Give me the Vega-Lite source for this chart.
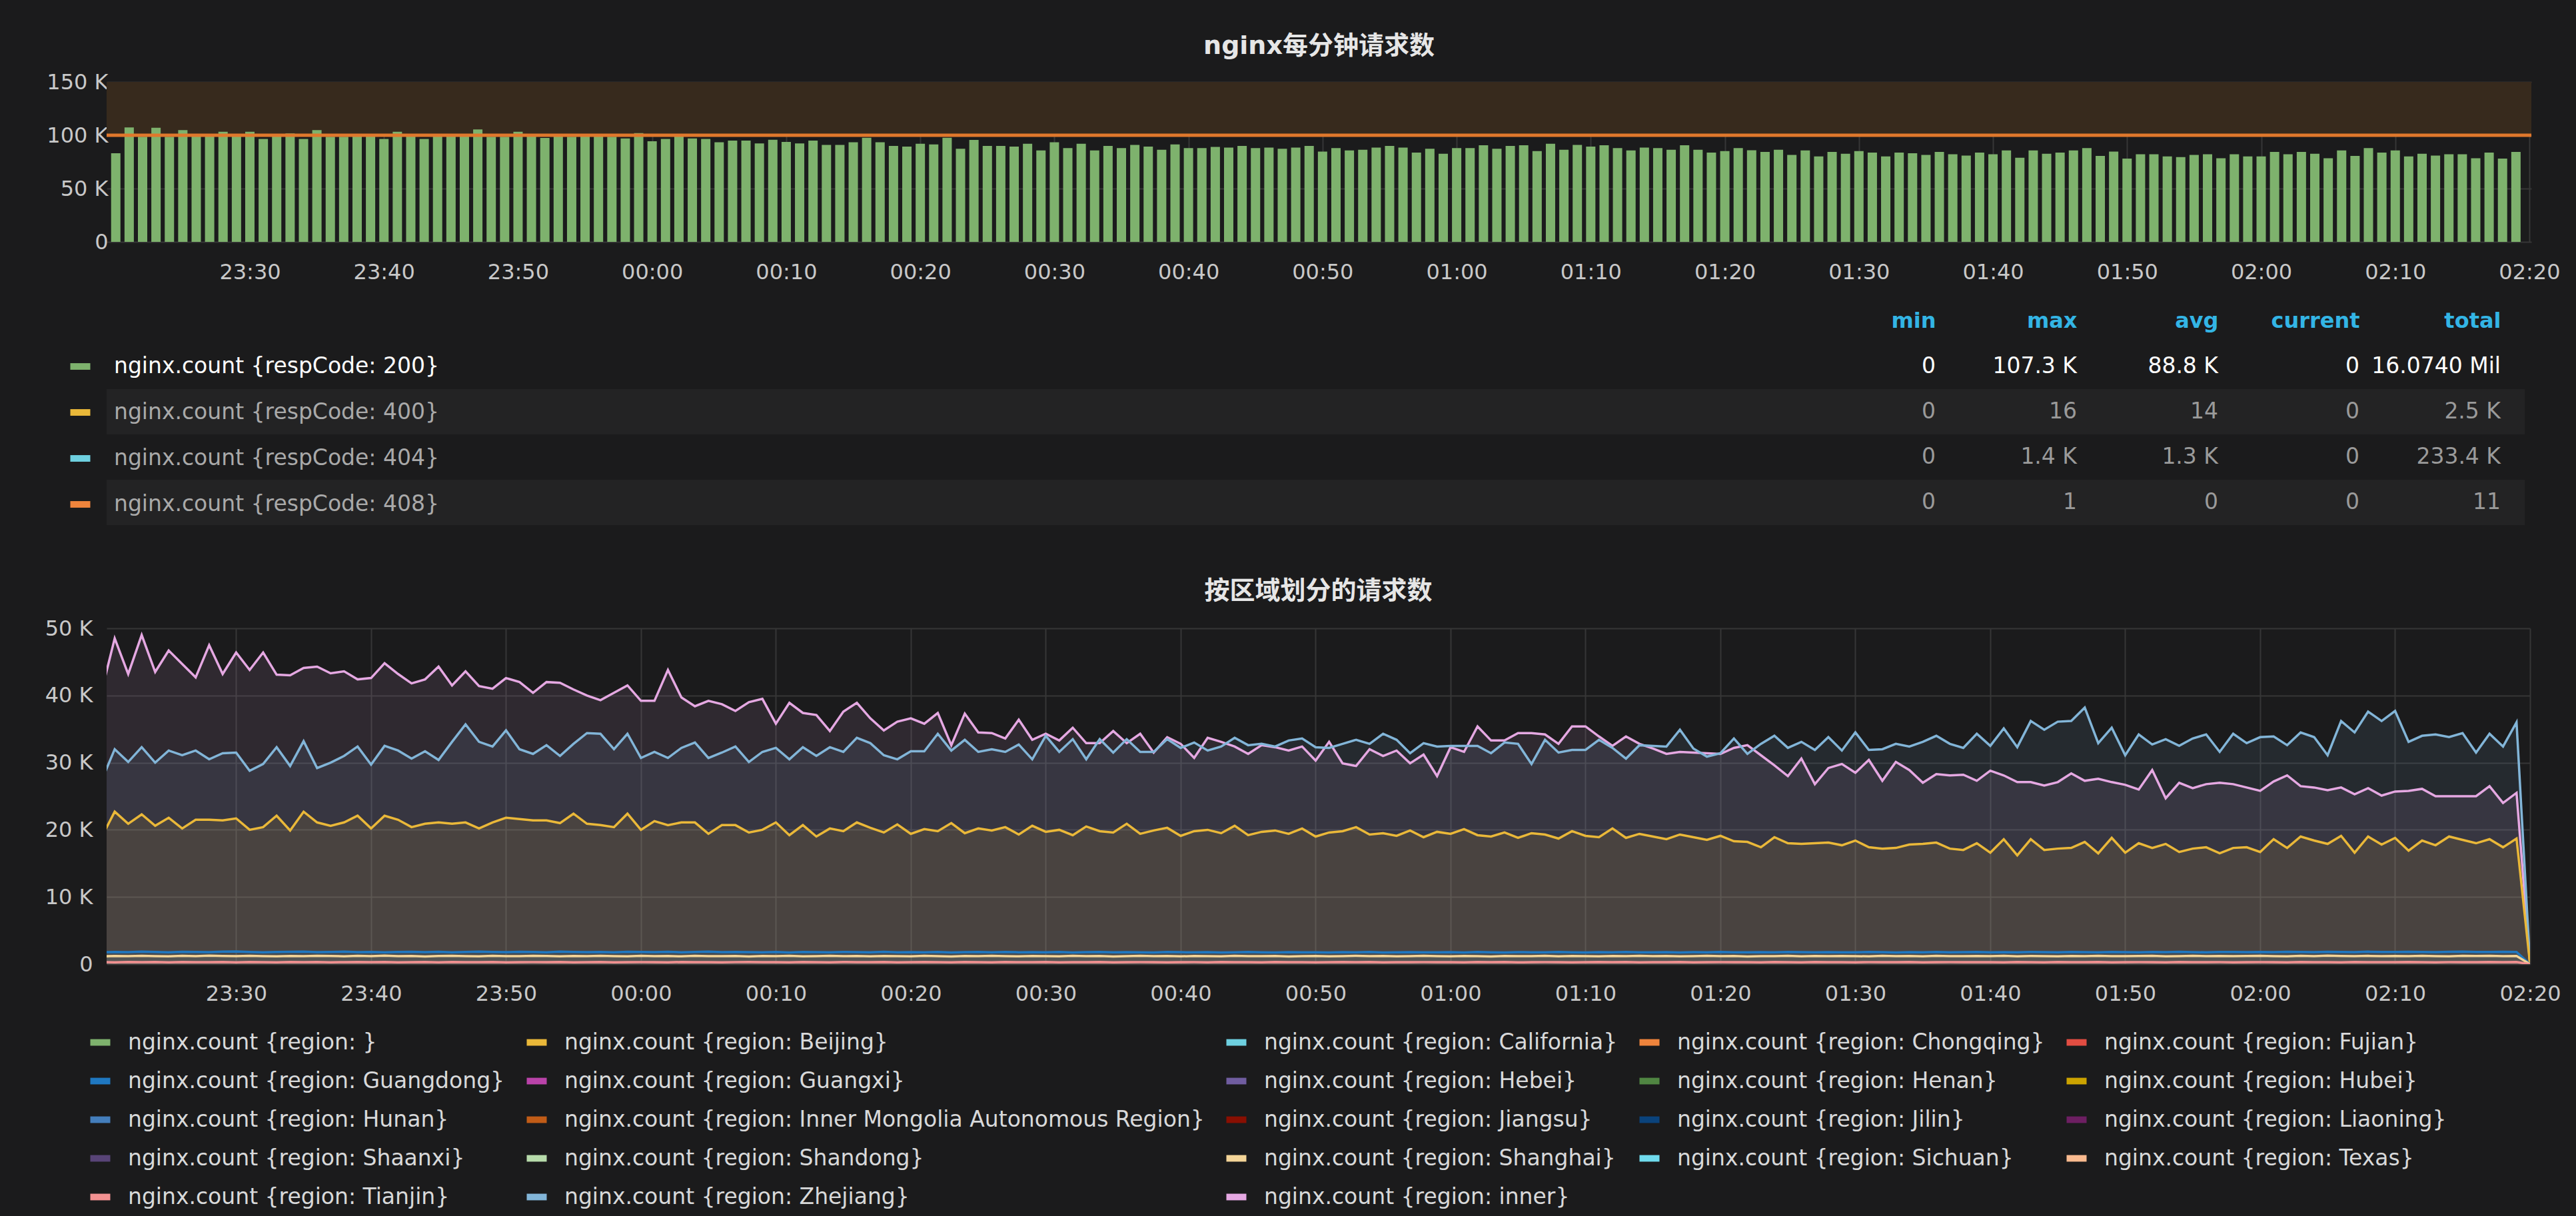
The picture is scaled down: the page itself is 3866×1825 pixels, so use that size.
{
"$schema": "https://vega.github.io/schema/vega-lite/v6.json",
"background": "#1b1b1c",
"padding": {"left": 67, "top": 51, "right": 23, "bottom": 17},
"spacing": 41,
"resolve": {"scale": {"color": "independent"}, "legend": {"color": "independent"}},
"config": {
  "view": {"stroke": null},
  "font": "DejaVu Sans",
  "axis": {"labelFont": "DejaVu Sans", "labelFontSize": 32, "labelColor": "#c8c8c8", "domain": false, "ticks": false, "gridColor": "#363636", "gridWidth": 2},
  "legend": {"labelFont": "DejaVu Sans", "labelFontSize": 33, "labelColor": "#d8d9da", "labelLimit": 3000},
  "title": {"font": "DejaVu Sans, Noto Sans CJK SC", "fontSize": 38, "fontWeight": "bold", "color": "#e6e6e6", "baseline": "bottom"}
},
"datasets": {
"stats": [
{"code":"200","min":"0","max":"107.3 K","avg":"88.8 K","current":"0","total":"16.0740 Mil"},
{"code":"400","min":"0","max":"16","avg":"14","current":"0","total":"2.5 K"},
{"code":"404","min":"0","max":"1.4 K","avg":"1.3 K","current":"0","total":"233.4 K"},
{"code":"408","min":"0","max":"1","avg":"0","current":"0","total":"11"}
],
"minutes": [
{"t":"2017-06-01T23:20","c200":83100,"inner":40400,"Zhejiang":27200,"Beijing":18800,"Guangdong":1750,"Shanghai":1150,"Tianjin":300},
{"t":"2017-06-01T23:21","c200":107300,"inner":48500,"Zhejiang":32000,"Beijing":22700,"Guangdong":1820,"Shanghai":1220,"Tianjin":280},
{"t":"2017-06-01T23:22","c200":98600,"inner":43200,"Zhejiang":30100,"Beijing":20900,"Guangdong":1780,"Shanghai":1180,"Tianjin":320},
{"t":"2017-06-01T23:23","c200":107000,"inner":49000,"Zhejiang":32300,"Beijing":22300,"Guangdong":1860,"Shanghai":1250,"Tianjin":290},
{"t":"2017-06-01T23:24","c200":98600,"inner":43500,"Zhejiang":30000,"Beijing":20600,"Guangdong":1800,"Shanghai":1200,"Tianjin":310},
{"t":"2017-06-01T23:25","c200":104800,"inner":46700,"Zhejiang":31800,"Beijing":21800,"Guangdong":1770,"Shanghai":1170,"Tianjin":270},
{"t":"2017-06-01T23:26","c200":100600,"inner":44700,"Zhejiang":31100,"Beijing":20200,"Guangdong":1840,"Shanghai":1230,"Tianjin":330},
{"t":"2017-06-01T23:27","c200":100600,"inner":42700,"Zhejiang":31800,"Beijing":21500,"Guangdong":1810,"Shanghai":1190,"Tianjin":300},
{"t":"2017-06-01T23:28","c200":103300,"inner":47500,"Zhejiang":30500,"Beijing":21500,"Guangdong":1790,"Shanghai":1260,"Tianjin":290},
{"t":"2017-06-01T23:29","c200":100600,"inner":43200,"Zhejiang":31400,"Beijing":21400,"Guangdong":1850,"Shanghai":1210,"Tianjin":310},
{"t":"2017-06-01T23:30","c200":103300,"inner":46400,"Zhejiang":31500,"Beijing":21700,"Guangdong":1880,"Shanghai":1180,"Tianjin":280},
{"t":"2017-06-01T23:31","c200":96500,"inner":43800,"Zhejiang":28800,"Beijing":20000,"Guangdong":1820,"Shanghai":1240,"Tianjin":320},
{"t":"2017-06-01T23:32","c200":101300,"inner":46400,"Zhejiang":29800,"Beijing":20400,"Guangdong":1760,"Shanghai":1200,"Tianjin":300},
{"t":"2017-06-01T23:33","c200":101700,"inner":43100,"Zhejiang":32300,"Beijing":22100,"Guangdong":1800,"Shanghai":1160,"Tianjin":270},
{"t":"2017-06-01T23:34","c200":96500,"inner":43000,"Zhejiang":29500,"Beijing":19900,"Guangdong":1830,"Shanghai":1220,"Tianjin":310},
{"t":"2017-06-01T23:35","c200":104800,"inner":44100,"Zhejiang":33200,"Beijing":22700,"Guangdong":1870,"Shanghai":1190,"Tianjin":290},
{"t":"2017-06-01T23:36","c200":98600,"inner":44300,"Zhejiang":29200,"Beijing":21100,"Guangdong":1790,"Shanghai":1250,"Tianjin":330},
{"t":"2017-06-01T23:37","c200":98600,"inner":43300,"Zhejiang":30000,"Beijing":20600,"Guangdong":1810,"Shanghai":1210,"Tianjin":280},
{"t":"2017-06-01T23:38","c200":100600,"inner":43600,"Zhejiang":31000,"Beijing":21100,"Guangdong":1850,"Shanghai":1170,"Tianjin":300},
{"t":"2017-06-01T23:39","c200":101300,"inner":42400,"Zhejiang":32400,"Beijing":22100,"Guangdong":1780,"Shanghai":1230,"Tianjin":320},
{"t":"2017-06-01T23:40","c200":96500,"inner":42600,"Zhejiang":29700,"Beijing":20200,"Guangdong":1820,"Shanghai":1200,"Tianjin":290},
{"t":"2017-06-01T23:41","c200":103300,"inner":44800,"Zhejiang":32500,"Beijing":22100,"Guangdong":1760,"Shanghai":1260,"Tianjin":310},
{"t":"2017-06-01T23:42","c200":100600,"inner":43200,"Zhejiang":31800,"Beijing":21500,"Guangdong":1800,"Shanghai":1180,"Tianjin":270},
{"t":"2017-06-01T23:43","c200":96500,"inner":41800,"Zhejiang":30600,"Beijing":20400,"Guangdong":1840,"Shanghai":1220,"Tianjin":300},
{"t":"2017-06-01T23:44","c200":99200,"inner":42400,"Zhejiang":31700,"Beijing":20900,"Guangdong":1790,"Shanghai":1150,"Tianjin":320},
{"t":"2017-06-01T23:45","c200":100600,"inner":44300,"Zhejiang":30400,"Beijing":21100,"Guangdong":1830,"Shanghai":1210,"Tianjin":280},
{"t":"2017-06-01T23:46","c200":99200,"inner":41500,"Zhejiang":33100,"Beijing":20900,"Guangdong":1770,"Shanghai":1240,"Tianjin":310},
{"t":"2017-06-01T23:47","c200":105400,"inner":43600,"Zhejiang":35700,"Beijing":21100,"Guangdong":1810,"Shanghai":1190,"Tianjin":290},
{"t":"2017-06-01T23:48","c200":98600,"inner":41400,"Zhejiang":33100,"Beijing":20200,"Guangdong":1860,"Shanghai":1170,"Tianjin":300},
{"t":"2017-06-01T23:49","c200":98600,"inner":41000,"Zhejiang":32400,"Beijing":21100,"Guangdong":1800,"Shanghai":1230,"Tianjin":330},
{"t":"2017-06-01T23:50","c200":103300,"inner":42600,"Zhejiang":34800,"Beijing":21800,"Guangdong":1780,"Shanghai":1200,"Tianjin":270},
{"t":"2017-06-01T23:51","c200":99600,"inner":42000,"Zhejiang":32000,"Beijing":21600,"Guangdong":1830,"Shanghai":1180,"Tianjin":300},
{"t":"2017-06-01T23:52","c200":97500,"inner":40400,"Zhejiang":31300,"Beijing":21400,"Guangdong":1810,"Shanghai":1250,"Tianjin":310},
{"t":"2017-06-01T23:53","c200":100600,"inner":42000,"Zhejiang":32600,"Beijing":21400,"Guangdong":1760,"Shanghai":1210,"Tianjin":290},
{"t":"2017-06-01T23:54","c200":98600,"inner":41900,"Zhejiang":31000,"Beijing":21000,"Guangdong":1850,"Shanghai":1160,"Tianjin":320},
{"t":"2017-06-01T23:55","c200":100600,"inner":40900,"Zhejiang":32800,"Beijing":22400,"Guangdong":1800,"Shanghai":1220,"Tianjin":280},
{"t":"2017-06-01T23:56","c200":100000,"inner":40000,"Zhejiang":34400,"Beijing":20900,"Guangdong":1790,"Shanghai":1190,"Tianjin":300},
{"t":"2017-06-01T23:57","c200":98600,"inner":39300,"Zhejiang":34300,"Beijing":20700,"Guangdong":1820,"Shanghai":1240,"Tianjin":310},
{"t":"2017-06-01T23:58","c200":97100,"inner":40400,"Zhejiang":32000,"Beijing":20400,"Guangdong":1770,"Shanghai":1200,"Tianjin":270},
{"t":"2017-06-01T23:59","c200":102100,"inner":41500,"Zhejiang":34300,"Beijing":22400,"Guangdong":1840,"Shanghai":1170,"Tianjin":290},
{"t":"2017-06-02T00:00","c200":94400,"inner":39200,"Zhejiang":30700,"Beijing":20000,"Guangdong":1810,"Shanghai":1230,"Tianjin":310},
{"t":"2017-06-02T00:01","c200":96500,"inner":39200,"Zhejiang":31600,"Beijing":21300,"Guangdong":1790,"Shanghai":1190,"Tianjin":300},
{"t":"2017-06-02T00:02","c200":99600,"inner":43800,"Zhejiang":30700,"Beijing":20700,"Guangdong":1830,"Shanghai":1210,"Tianjin":280},
{"t":"2017-06-02T00:03","c200":97100,"inner":39700,"Zhejiang":32200,"Beijing":21100,"Guangdong":1760,"Shanghai":1160,"Tianjin":320},
{"t":"2017-06-02T00:04","c200":96500,"inner":38400,"Zhejiang":33000,"Beijing":21100,"Guangdong":1800,"Shanghai":1240,"Tianjin":290},
{"t":"2017-06-02T00:05","c200":93400,"inner":39200,"Zhejiang":30700,"Beijing":19400,"Guangdong":1850,"Shanghai":1200,"Tianjin":300},
{"t":"2017-06-02T00:06","c200":95000,"inner":38700,"Zhejiang":31500,"Beijing":20700,"Guangdong":1780,"Shanghai":1180,"Tianjin":270},
{"t":"2017-06-02T00:07","c200":95000,"inner":37700,"Zhejiang":32400,"Beijing":20700,"Guangdong":1820,"Shanghai":1220,"Tianjin":310},
{"t":"2017-06-02T00:08","c200":92300,"inner":39000,"Zhejiang":30100,"Beijing":19600,"Guangdong":1790,"Shanghai":1150,"Tianjin":330},
{"t":"2017-06-02T00:09","c200":95800,"inner":39500,"Zhejiang":31600,"Beijing":20000,"Guangdong":1760,"Shanghai":1210,"Tianjin":290},
{"t":"2017-06-02T00:10","c200":93800,"inner":35800,"Zhejiang":32200,"Beijing":21100,"Guangdong":1800,"Shanghai":1190,"Tianjin":300},
{"t":"2017-06-02T00:11","c200":92300,"inner":38900,"Zhejiang":30500,"Beijing":19200,"Guangdong":1740,"Shanghai":1230,"Tianjin":280},
{"t":"2017-06-02T00:12","c200":95000,"inner":37400,"Zhejiang":32300,"Beijing":20700,"Guangdong":1820,"Shanghai":1170,"Tianjin":310},
{"t":"2017-06-02T00:13","c200":90900,"inner":37100,"Zhejiang":31000,"Beijing":19000,"Guangdong":1780,"Shanghai":1200,"Tianjin":290},
{"t":"2017-06-02T00:14","c200":91000,"inner":34700,"Zhejiang":32300,"Beijing":20200,"Guangdong":1760,"Shanghai":1240,"Tianjin":270},
{"t":"2017-06-02T00:15","c200":93500,"inner":37600,"Zhejiang":31600,"Beijing":19800,"Guangdong":1810,"Shanghai":1180,"Tianjin":320},
{"t":"2017-06-02T00:16","c200":97700,"inner":38900,"Zhejiang":33700,"Beijing":21100,"Guangdong":1790,"Shanghai":1210,"Tianjin":300},
{"t":"2017-06-02T00:17","c200":93500,"inner":36600,"Zhejiang":32900,"Beijing":20300,"Guangdong":1750,"Shanghai":1160,"Tianjin":290},
{"t":"2017-06-02T00:18","c200":90000,"inner":34800,"Zhejiang":31100,"Beijing":19600,"Guangdong":1830,"Shanghai":1220,"Tianjin":310},
{"t":"2017-06-02T00:19","c200":89300,"inner":36100,"Zhejiang":30500,"Beijing":20800,"Guangdong":1770,"Shanghai":1190,"Tianjin":280},
{"t":"2017-06-02T00:20","c200":92100,"inner":36600,"Zhejiang":31700,"Beijing":19400,"Guangdong":1790,"Shanghai":1170,"Tianjin":300},
{"t":"2017-06-02T00:21","c200":91400,"inner":35800,"Zhejiang":31700,"Beijing":20100,"Guangdong":1760,"Shanghai":1230,"Tianjin":320},
{"t":"2017-06-02T00:22","c200":97700,"inner":37400,"Zhejiang":34300,"Beijing":19800,"Guangdong":1810,"Shanghai":1200,"Tianjin":290},
{"t":"2017-06-02T00:23","c200":87300,"inner":32600,"Zhejiang":31800,"Beijing":21000,"Guangdong":1740,"Shanghai":1150,"Tianjin":270},
{"t":"2017-06-02T00:24","c200":95600,"inner":37300,"Zhejiang":33400,"Beijing":19500,"Guangdong":1780,"Shanghai":1210,"Tianjin":310},
{"t":"2017-06-02T00:25","c200":90000,"inner":34500,"Zhejiang":31600,"Beijing":20200,"Guangdong":1800,"Shanghai":1180,"Tianjin":300},
{"t":"2017-06-02T00:26","c200":90000,"inner":34400,"Zhejiang":32000,"Beijing":19900,"Guangdong":1750,"Shanghai":1240,"Tianjin":280},
{"t":"2017-06-02T00:27","c200":89300,"inner":33600,"Zhejiang":31600,"Beijing":20400,"Guangdong":1820,"Shanghai":1190,"Tianjin":320},
{"t":"2017-06-02T00:28","c200":92100,"inner":36400,"Zhejiang":32700,"Beijing":19300,"Guangdong":1770,"Shanghai":1160,"Tianjin":290},
{"t":"2017-06-02T00:29","c200":85800,"inner":33400,"Zhejiang":30500,"Beijing":20600,"Guangdong":1790,"Shanghai":1220,"Tianjin":300},
{"t":"2017-06-02T00:30","c200":93500,"inner":34300,"Zhejiang":34000,"Beijing":19700,"Guangdong":1760,"Shanghai":1200,"Tianjin":310},
{"t":"2017-06-02T00:31","c200":87900,"inner":33300,"Zhejiang":31600,"Beijing":20000,"Guangdong":1800,"Shanghai":1170,"Tianjin":270},
{"t":"2017-06-02T00:32","c200":92100,"inner":35200,"Zhejiang":33500,"Beijing":19200,"Guangdong":1740,"Shanghai":1230,"Tianjin":300},
{"t":"2017-06-02T00:33","c200":85800,"inner":32900,"Zhejiang":30500,"Beijing":20500,"Guangdong":1780,"Shanghai":1190,"Tianjin":290},
{"t":"2017-06-02T00:34","c200":90000,"inner":32900,"Zhejiang":33500,"Beijing":19800,"Guangdong":1810,"Shanghai":1210,"Tianjin":320},
{"t":"2017-06-02T00:35","c200":87900,"inner":34700,"Zhejiang":31500,"Beijing":19600,"Guangdong":1750,"Shanghai":1150,"Tianjin":280},
{"t":"2017-06-02T00:36","c200":91000,"inner":32900,"Zhejiang":33500,"Beijing":20900,"Guangdong":1790,"Shanghai":1200,"Tianjin":300},
{"t":"2017-06-02T00:37","c200":89300,"inner":34300,"Zhejiang":31600,"Beijing":19400,"Guangdong":1770,"Shanghai":1240,"Tianjin":310},
{"t":"2017-06-02T00:38","c200":86400,"inner":31500,"Zhejiang":31600,"Beijing":19900,"Guangdong":1730,"Shanghai":1180,"Tianjin":290},
{"t":"2017-06-02T00:39","c200":91400,"inner":33800,"Zhejiang":33500,"Beijing":20300,"Guangdong":1800,"Shanghai":1210,"Tianjin":270},
{"t":"2017-06-02T00:40","c200":87900,"inner":32800,"Zhejiang":32200,"Beijing":19100,"Guangdong":1780,"Shanghai":1160,"Tianjin":300},
{"t":"2017-06-02T00:41","c200":87900,"inner":30700,"Zhejiang":33000,"Beijing":19800,"Guangdong":1750,"Shanghai":1220,"Tianjin":310},
{"t":"2017-06-02T00:42","c200":89000,"inner":33700,"Zhejiang":31800,"Beijing":20000,"Guangdong":1790,"Shanghai":1190,"Tianjin":280},
{"t":"2017-06-02T00:43","c200":88500,"inner":33100,"Zhejiang":32400,"Beijing":19500,"Guangdong":1730,"Shanghai":1170,"Tianjin":320},
{"t":"2017-06-02T00:44","c200":90000,"inner":32400,"Zhejiang":33700,"Beijing":20600,"Guangdong":1770,"Shanghai":1230,"Tianjin":290},
{"t":"2017-06-02T00:45","c200":87900,"inner":31300,"Zhejiang":32600,"Beijing":19200,"Guangdong":1800,"Shanghai":1200,"Tianjin":300},
{"t":"2017-06-02T00:46","c200":88500,"inner":32600,"Zhejiang":32800,"Beijing":19700,"Guangdong":1760,"Shanghai":1180,"Tianjin":270},
{"t":"2017-06-02T00:47","c200":87300,"inner":32300,"Zhejiang":32400,"Beijing":19900,"Guangdong":1740,"Shanghai":1210,"Tianjin":310},
{"t":"2017-06-02T00:48","c200":88500,"inner":31800,"Zhejiang":33300,"Beijing":19400,"Guangdong":1790,"Shanghai":1150,"Tianjin":300},
{"t":"2017-06-02T00:49","c200":90000,"inner":32400,"Zhejiang":33600,"Beijing":20200,"Guangdong":1750,"Shanghai":1190,"Tianjin":290},
{"t":"2017-06-02T00:50","c200":84700,"inner":30300,"Zhejiang":32300,"Beijing":19000,"Guangdong":1770,"Shanghai":1220,"Tianjin":280},
{"t":"2017-06-02T00:51","c200":87900,"inner":33100,"Zhejiang":32200,"Beijing":19600,"Guangdong":1730,"Shanghai":1170,"Tianjin":300},
{"t":"2017-06-02T00:52","c200":85800,"inner":29900,"Zhejiang":32800,"Beijing":19800,"Guangdong":1780,"Shanghai":1200,"Tianjin":320},
{"t":"2017-06-02T00:53","c200":86400,"inner":29500,"Zhejiang":33400,"Beijing":20400,"Guangdong":1760,"Shanghai":1240,"Tianjin":290},
{"t":"2017-06-02T00:54","c200":88500,"inner":32000,"Zhejiang":32800,"Beijing":19300,"Guangdong":1800,"Shanghai":1180,"Tianjin":310},
{"t":"2017-06-02T00:55","c200":90000,"inner":31000,"Zhejiang":34300,"Beijing":19500,"Guangdong":1740,"Shanghai":1210,"Tianjin":270},
{"t":"2017-06-02T00:56","c200":88500,"inner":31800,"Zhejiang":33400,"Beijing":19100,"Guangdong":1770,"Shanghai":1160,"Tianjin":300},
{"t":"2017-06-02T00:57","c200":83700,"inner":29900,"Zhejiang":31400,"Beijing":19900,"Guangdong":1790,"Shanghai":1200,"Tianjin":290},
{"t":"2017-06-02T00:58","c200":87300,"inner":31200,"Zhejiang":32900,"Beijing":18900,"Guangdong":1750,"Shanghai":1230,"Tianjin":310},
{"t":"2017-06-02T00:59","c200":82600,"inner":28000,"Zhejiang":32400,"Beijing":19700,"Guangdong":1760,"Shanghai":1190,"Tianjin":300},
{"t":"2017-06-02T01:00","c200":87900,"inner":32300,"Zhejiang":32500,"Beijing":19400,"Guangdong":1780,"Shanghai":1170,"Tianjin":290},
{"t":"2017-06-02T01:01","c200":87900,"inner":31600,"Zhejiang":32500,"Beijing":20100,"Guangdong":1740,"Shanghai":1210,"Tianjin":270},
{"t":"2017-06-02T01:02","c200":90600,"inner":35400,"Zhejiang":32500,"Beijing":19200,"Guangdong":1800,"Shanghai":1190,"Tianjin":310},
{"t":"2017-06-02T01:03","c200":87300,"inner":33300,"Zhejiang":31400,"Beijing":19000,"Guangdong":1760,"Shanghai":1150,"Tianjin":300},
{"t":"2017-06-02T01:04","c200":90000,"inner":33300,"Zhejiang":33000,"Beijing":19600,"Guangdong":1730,"Shanghai":1220,"Tianjin":320},
{"t":"2017-06-02T01:05","c200":90600,"inner":34400,"Zhejiang":32800,"Beijing":18800,"Guangdong":1790,"Shanghai":1200,"Tianjin":280},
{"t":"2017-06-02T01:06","c200":85200,"inner":34400,"Zhejiang":29800,"Beijing":19500,"Guangdong":1770,"Shanghai":1180,"Tianjin":290},
{"t":"2017-06-02T01:07","c200":92100,"inner":34200,"Zhejiang":33400,"Beijing":19300,"Guangdong":1750,"Shanghai":1230,"Tianjin":310},
{"t":"2017-06-02T01:08","c200":86400,"inner":32800,"Zhejiang":31500,"Beijing":18700,"Guangdong":1810,"Shanghai":1170,"Tianjin":300},
{"t":"2017-06-02T01:09","c200":91000,"inner":35400,"Zhejiang":31900,"Beijing":19800,"Guangdong":1760,"Shanghai":1210,"Tianjin":280},
{"t":"2017-06-02T01:10","c200":89300,"inner":35400,"Zhejiang":31900,"Beijing":19100,"Guangdong":1740,"Shanghai":1190,"Tianjin":300},
{"t":"2017-06-02T01:11","c200":90600,"inner":33900,"Zhejiang":33400,"Beijing":18900,"Guangdong":1780,"Shanghai":1160,"Tianjin":320},
{"t":"2017-06-02T01:12","c200":87900,"inner":32500,"Zhejiang":32200,"Beijing":20200,"Guangdong":1760,"Shanghai":1220,"Tianjin":290},
{"t":"2017-06-02T01:13","c200":85800,"inner":33900,"Zhejiang":30600,"Beijing":18800,"Guangdong":1800,"Shanghai":1200,"Tianjin":310},
{"t":"2017-06-02T01:14","c200":88500,"inner":32800,"Zhejiang":32600,"Beijing":19400,"Guangdong":1750,"Shanghai":1240,"Tianjin":270},
{"t":"2017-06-02T01:15","c200":87900,"inner":32100,"Zhejiang":32500,"Beijing":19000,"Guangdong":1770,"Shanghai":1180,"Tianjin":300},
{"t":"2017-06-02T01:16","c200":86400,"inner":31300,"Zhejiang":32400,"Beijing":18600,"Guangdong":1790,"Shanghai":1210,"Tianjin":290},
{"t":"2017-06-02T01:17","c200":90600,"inner":31600,"Zhejiang":34900,"Beijing":19300,"Guangdong":1740,"Shanghai":1170,"Tianjin":320},
{"t":"2017-06-02T01:18","c200":86400,"inner":31500,"Zhejiang":32100,"Beijing":18900,"Guangdong":1780,"Shanghai":1200,"Tianjin":280},
{"t":"2017-06-02T01:19","c200":83700,"inner":31400,"Zhejiang":30900,"Beijing":18500,"Guangdong":1760,"Shanghai":1230,"Tianjin":300},
{"t":"2017-06-02T01:20","c200":85200,"inner":31300,"Zhejiang":31400,"Beijing":19100,"Guangdong":1800,"Shanghai":1180,"Tianjin":310},
{"t":"2017-06-02T01:21","c200":88000,"inner":32200,"Zhejiang":33600,"Beijing":18300,"Guangdong":1770,"Shanghai":1210,"Tianjin":290},
{"t":"2017-06-02T01:22","c200":86000,"inner":32600,"Zhejiang":31300,"Beijing":18200,"Guangdong":1750,"Shanghai":1150,"Tianjin":300},
{"t":"2017-06-02T01:23","c200":84300,"inner":31100,"Zhejiang":32800,"Beijing":17400,"Guangdong":1790,"Shanghai":1200,"Tianjin":280},
{"t":"2017-06-02T01:24","c200":86400,"inner":29600,"Zhejiang":34000,"Beijing":18900,"Guangdong":1760,"Shanghai":1190,"Tianjin":320},
{"t":"2017-06-02T01:25","c200":81600,"inner":28000,"Zhejiang":32200,"Beijing":18000,"Guangdong":1810,"Shanghai":1230,"Tianjin":300},
{"t":"2017-06-02T01:26","c200":85800,"inner":30600,"Zhejiang":33100,"Beijing":17900,"Guangdong":1780,"Shanghai":1170,"Tianjin":270},
{"t":"2017-06-02T01:27","c200":80200,"inner":26800,"Zhejiang":31900,"Beijing":18000,"Guangdong":1750,"Shanghai":1210,"Tianjin":310},
{"t":"2017-06-02T01:28","c200":84300,"inner":29200,"Zhejiang":33800,"Beijing":18100,"Guangdong":1790,"Shanghai":1180,"Tianjin":290},
{"t":"2017-06-02T01:29","c200":82700,"inner":29800,"Zhejiang":31800,"Beijing":17700,"Guangdong":1770,"Shanghai":1220,"Tianjin":300},
{"t":"2017-06-02T01:30","c200":85200,"inner":28500,"Zhejiang":34500,"Beijing":18400,"Guangdong":1760,"Shanghai":1200,"Tianjin":280},
{"t":"2017-06-02T01:31","c200":83700,"inner":30400,"Zhejiang":31900,"Beijing":17400,"Guangdong":1800,"Shanghai":1160,"Tianjin":310},
{"t":"2017-06-02T01:32","c200":80200,"inner":27300,"Zhejiang":32000,"Beijing":17200,"Guangdong":1780,"Shanghai":1230,"Tianjin":300},
{"t":"2017-06-02T01:33","c200":83700,"inner":30100,"Zhejiang":32800,"Beijing":17300,"Guangdong":1740,"Shanghai":1190,"Tianjin":290},
{"t":"2017-06-02T01:34","c200":83100,"inner":28900,"Zhejiang":32400,"Beijing":17800,"Guangdong":1790,"Shanghai":1210,"Tianjin":320},
{"t":"2017-06-02T01:35","c200":81600,"inner":27000,"Zhejiang":33100,"Beijing":17900,"Guangdong":1770,"Shanghai":1170,"Tianjin":270},
{"t":"2017-06-02T01:36","c200":84300,"inner":28300,"Zhejiang":34000,"Beijing":18100,"Guangdong":1810,"Shanghai":1240,"Tianjin":300},
{"t":"2017-06-02T01:37","c200":82200,"inner":28100,"Zhejiang":32800,"Beijing":17200,"Guangdong":1760,"Shanghai":1200,"Tianjin":310},
{"t":"2017-06-02T01:38","c200":81000,"inner":28200,"Zhejiang":32200,"Beijing":17000,"Guangdong":1780,"Shanghai":1180,"Tianjin":290},
{"t":"2017-06-02T01:39","c200":83700,"inner":27300,"Zhejiang":34300,"Beijing":18000,"Guangdong":1800,"Shanghai":1220,"Tianjin":300},
{"t":"2017-06-02T01:40","c200":82200,"inner":28800,"Zhejiang":32500,"Beijing":16600,"Guangdong":1770,"Shanghai":1190,"Tianjin":300},
{"t":"2017-06-02T01:41","c200":85800,"inner":28100,"Zhejiang":35100,"Beijing":18600,"Guangdong":1790,"Shanghai":1230,"Tianjin":280},
{"t":"2017-06-02T01:42","c200":78900,"inner":27100,"Zhejiang":32300,"Beijing":16200,"Guangdong":1750,"Shanghai":1170,"Tianjin":310},
{"t":"2017-06-02T01:43","c200":85800,"inner":27100,"Zhejiang":36200,"Beijing":18600,"Guangdong":1810,"Shanghai":1210,"Tianjin":290},
{"t":"2017-06-02T01:44","c200":82700,"inner":26600,"Zhejiang":34900,"Beijing":17000,"Guangdong":1780,"Shanghai":1200,"Tianjin":270},
{"t":"2017-06-02T01:45","c200":83700,"inner":27100,"Zhejiang":36100,"Beijing":17200,"Guangdong":1760,"Shanghai":1160,"Tianjin":320},
{"t":"2017-06-02T01:46","c200":85800,"inner":28400,"Zhejiang":36200,"Beijing":17300,"Guangdong":1800,"Shanghai":1220,"Tianjin":300},
{"t":"2017-06-02T01:47","c200":87900,"inner":27300,"Zhejiang":38200,"Beijing":18200,"Guangdong":1790,"Shanghai":1190,"Tianjin":290},
{"t":"2017-06-02T01:48","c200":80600,"inner":27600,"Zhejiang":32900,"Beijing":16500,"Guangdong":1770,"Shanghai":1240,"Tianjin":310},
{"t":"2017-06-02T01:49","c200":84700,"inner":27100,"Zhejiang":35200,"Beijing":18800,"Guangdong":1820,"Shanghai":1200,"Tianjin":280},
{"t":"2017-06-02T01:50","c200":78100,"inner":26700,"Zhejiang":31100,"Beijing":16600,"Guangdong":1790,"Shanghai":1180,"Tianjin":290},
{"t":"2017-06-02T01:51","c200":82200,"inner":26000,"Zhejiang":34200,"Beijing":18000,"Guangdong":1770,"Shanghai":1210,"Tianjin":310},
{"t":"2017-06-02T01:52","c200":82200,"inner":28900,"Zhejiang":32700,"Beijing":17300,"Guangdong":1810,"Shanghai":1230,"Tianjin":300},
{"t":"2017-06-02T01:53","c200":80200,"inner":24700,"Zhejiang":33500,"Beijing":17900,"Guangdong":1780,"Shanghai":1170,"Tianjin":270},
{"t":"2017-06-02T01:54","c200":79500,"inner":27000,"Zhejiang":32500,"Beijing":16700,"Guangdong":1830,"Shanghai":1200,"Tianjin":320},
{"t":"2017-06-02T01:55","c200":81600,"inner":26200,"Zhejiang":33600,"Beijing":17200,"Guangdong":1790,"Shanghai":1250,"Tianjin":290},
{"t":"2017-06-02T01:56","c200":82200,"inner":26800,"Zhejiang":34200,"Beijing":17400,"Guangdong":1760,"Shanghai":1190,"Tianjin":300},
{"t":"2017-06-02T01:57","c200":78500,"inner":27000,"Zhejiang":31600,"Beijing":16500,"Guangdong":1810,"Shanghai":1220,"Tianjin":310},
{"t":"2017-06-02T01:58","c200":82200,"inner":26800,"Zhejiang":34300,"Beijing":17300,"Guangdong":1800,"Shanghai":1180,"Tianjin":280},
{"t":"2017-06-02T01:59","c200":80200,"inner":26300,"Zhejiang":32900,"Beijing":17400,"Guangdong":1780,"Shanghai":1210,"Tianjin":300},
{"t":"2017-06-02T02:00","c200":80200,"inner":25800,"Zhejiang":33800,"Beijing":16700,"Guangdong":1820,"Shanghai":1240,"Tianjin":310},
{"t":"2017-06-02T02:01","c200":84300,"inner":27200,"Zhejiang":33900,"Beijing":18600,"Guangdong":1790,"Shanghai":1200,"Tianjin":290},
{"t":"2017-06-02T02:02","c200":82200,"inner":28100,"Zhejiang":32600,"Beijing":17300,"Guangdong":1840,"Shanghai":1170,"Tianjin":280},
{"t":"2017-06-02T02:03","c200":84300,"inner":26500,"Zhejiang":34500,"Beijing":19000,"Guangdong":1800,"Shanghai":1230,"Tianjin":320},
{"t":"2017-06-02T02:04","c200":82700,"inner":26300,"Zhejiang":33800,"Beijing":18400,"Guangdong":1780,"Shanghai":1190,"Tianjin":300},
{"t":"2017-06-02T02:05","c200":78500,"inner":25900,"Zhejiang":31100,"Beijing":17900,"Guangdong":1830,"Shanghai":1260,"Tianjin":290},
{"t":"2017-06-02T02:06","c200":85800,"inner":26300,"Zhejiang":36200,"Beijing":19100,"Guangdong":1810,"Shanghai":1210,"Tianjin":270},
{"t":"2017-06-02T02:07","c200":80600,"inner":25300,"Zhejiang":34500,"Beijing":16600,"Guangdong":1790,"Shanghai":1180,"Tianjin":310},
{"t":"2017-06-02T02:08","c200":87900,"inner":26200,"Zhejiang":37600,"Beijing":19000,"Guangdong":1850,"Shanghai":1230,"Tianjin":300},
{"t":"2017-06-02T02:09","c200":83700,"inner":25100,"Zhejiang":36200,"Beijing":17800,"Guangdong":1820,"Shanghai":1200,"Tianjin":290},
{"t":"2017-06-02T02:10","c200":85800,"inner":25700,"Zhejiang":37700,"Beijing":18800,"Guangdong":1800,"Shanghai":1220,"Tianjin":300},
{"t":"2017-06-02T02:11","c200":80200,"inner":25800,"Zhejiang":33100,"Beijing":16900,"Guangdong":1840,"Shanghai":1190,"Tianjin":320},
{"t":"2017-06-02T02:12","c200":82700,"inner":26100,"Zhejiang":34000,"Beijing":18400,"Guangdong":1810,"Shanghai":1240,"Tianjin":290},
{"t":"2017-06-02T02:13","c200":81000,"inner":25000,"Zhejiang":34200,"Beijing":17700,"Guangdong":1790,"Shanghai":1200,"Tianjin":280},
{"t":"2017-06-02T02:14","c200":82200,"inner":25000,"Zhejiang":33800,"Beijing":19000,"Guangdong":1830,"Shanghai":1170,"Tianjin":310},
{"t":"2017-06-02T02:15","c200":82200,"inner":25000,"Zhejiang":34400,"Beijing":18500,"Guangdong":1860,"Shanghai":1230,"Tianjin":300},
{"t":"2017-06-02T02:16","c200":78500,"inner":25000,"Zhejiang":31500,"Beijing":18000,"Guangdong":1820,"Shanghai":1210,"Tianjin":290},
{"t":"2017-06-02T02:17","c200":83700,"inner":26500,"Zhejiang":34300,"Beijing":18600,"Guangdong":1800,"Shanghai":1250,"Tianjin":320},
{"t":"2017-06-02T02:18","c200":78100,"inner":24000,"Zhejiang":32400,"Beijing":17400,"Guangdong":1840,"Shanghai":1190,"Tianjin":300},
{"t":"2017-06-02T02:19","c200":84300,"inner":25500,"Zhejiang":36000,"Beijing":18700,"Guangdong":1810,"Shanghai":1220,"Tianjin":310},
{"t":"2017-06-02T02:20","c200":0,"inner":0,"Zhejiang":0,"Beijing":0,"Guangdong":0,"Shanghai":0,"Tianjin":0}
]
},
"vconcat": [
{
  "width": 3639, "height": 240,
  "title": {"text": "nginx每分钟请求数", "offset": 18},
  "resolve": {"scale": {"x": "independent"}},
  "layer": [
    {
      "data": {"values": [{"lo": 100000, "hi": 150000}]},
      "mark": {"type": "rect", "color": "#372a1d"},
      "encoding": {
        "y": {"field": "lo", "type": "quantitative", "title": null, "scale": {"domain": [0, 150000], "padding": 0, "nice": false}},
        "y2": {"field": "hi"}
      }
    },
    {
      "data": {"name": "minutes"},
      "mark": {"type": "bar", "size": 14, "color": "#7EB26D", "clip": true},
      "encoding": {
        "x": {"field": "t", "type": "temporal", "title": null,
          "scale": {"padding": 0, "domain": [{"year": 2017, "month": 6, "date": 1, "hours": 23, "minutes": 19, "seconds": 19}, {"year": 2017, "month": 6, "date": 2, "hours": 2, "minutes": 20, "seconds": 9}]},
          "axis": {"format": "%H:%M", "labelFlush": false, "labelPadding": 30, "grid": true,
            "values": [{"year": 2017, "month": 6, "date": 1, "hours": 23, "minutes": 30}, {"year": 2017, "month": 6, "date": 1, "hours": 23, "minutes": 40}, {"year": 2017, "month": 6, "date": 1, "hours": 23, "minutes": 50}, {"year": 2017, "month": 6, "date": 2, "hours": 0, "minutes": 0}, {"year": 2017, "month": 6, "date": 2, "hours": 0, "minutes": 10}, {"year": 2017, "month": 6, "date": 2, "hours": 0, "minutes": 20}, {"year": 2017, "month": 6, "date": 2, "hours": 0, "minutes": 30}, {"year": 2017, "month": 6, "date": 2, "hours": 0, "minutes": 40}, {"year": 2017, "month": 6, "date": 2, "hours": 0, "minutes": 50}, {"year": 2017, "month": 6, "date": 2, "hours": 1, "minutes": 0}, {"year": 2017, "month": 6, "date": 2, "hours": 1, "minutes": 10}, {"year": 2017, "month": 6, "date": 2, "hours": 1, "minutes": 20}, {"year": 2017, "month": 6, "date": 2, "hours": 1, "minutes": 30}, {"year": 2017, "month": 6, "date": 2, "hours": 1, "minutes": 40}, {"year": 2017, "month": 6, "date": 2, "hours": 1, "minutes": 50}, {"year": 2017, "month": 6, "date": 2, "hours": 2, "minutes": 0}, {"year": 2017, "month": 6, "date": 2, "hours": 2, "minutes": 10}, {"year": 2017, "month": 6, "date": 2, "hours": 2, "minutes": 20}]}},
        "y": {"field": "c200", "type": "quantitative", "title": null,
          "scale": {"domain": [0, 150000], "padding": 0, "nice": false},
          "axis": {"values": [0, 50000, 100000, 150000], "labelExpr": "datum.value == 0 ? '0' : (datum.value / 1000) + ' K'", "labelPadding": -2, "grid": true}}
      }
    },
    {
      "data": {"values": [{"lo": 100000}]},
      "mark": {"type": "rule", "color": "#e0782c", "strokeWidth": 5},
      "encoding": {
        "y": {"field": "lo", "type": "quantitative", "title": null}
      }
    }
  ]
},
{
  "width": 3629, "height": 312,
  "data": {"name": "stats"},
  "resolve": {"scale": {"x": "independent"}},
  "layer": [
    {
      "mark": {"type": "bar"},
      "encoding": {
        "y": {"field": "code", "type": "nominal", "axis": null,
          "scale": {"domain": ["200", "400", "404", "408"], "paddingInner": 0, "paddingOuter": 0.294, "align": 0}},
        "color": {"condition": {"test": "datum.code === '400' || datum.code === '408'", "value": "#232324"}, "value": "#1b1b1c"}
      }
    },
    {
      "transform": [{"fold": ["min", "max", "avg", "current", "total"], "as": ["stat", "val"]}],
      "mark": {"type": "text", "align": "right", "baseline": "middle", "fontSize": 33, "font": "DejaVu Sans"},
      "encoding": {
        "y": {"field": "code", "type": "nominal", "axis": null},
        "x": {"field": "stat", "type": "nominal",
          "scale": {"type": "point", "domain": ["min", "max", "avg", "current", "total"], "range": [2745, 3593], "padding": 0},
          "axis": {"orient": "top", "title": null, "labelAlign": "right", "labelBaseline": "bottom", "labelColor": "#33b5e5", "labelFontWeight": "bold", "labelPadding": 18, "grid": false, "labelAngle": 0}},
        "text": {"field": "val"},
        "color": {"condition": {"test": "datum.code === '200'", "value": "#ffffff"}, "value": "#9a9a9a"}
      }
    },
    {
      "mark": {"type": "text"},
      "encoding": {
        "y": {"field": "code", "type": "nominal", "axis": null},
        "text": {"value": ""},
        "color": {"field": "code", "type": "nominal",
          "scale": {"domain": ["200", "400", "404", "408"], "range": ["#7EB26D", "#EAB839", "#6ED0E0", "#EF843C"]},
          "legend": {"orient": "none", "legendX": -56, "legendY": 17.5, "title": null, "direction": "vertical",
            "symbolType": "M-1,-0.33H1V0.33H-1Z", "symbolSize": 900, "symbolStrokeWidth": 0, "symbolOpacity": 1, "labelOffset": 34, "rowPadding": 35,
            "labelExpr": "'nginx.count {respCode: ' + datum.label + '}'",
            "encode": {"labels": {"update": {"fill": {"signal": "datum.value === '200' ? '#ffffff' : '#a9a9a9'"}}}}}}
      }
    }
  ]
},
{
  "width": 3637, "height": 504,
  "title": {"text": "按区域划分的请求数", "offset": 20},
  "data": {"name": "minutes"},
  "transform": [{"fold": ["inner", "Zhejiang", "Beijing", "Guangdong", "Shanghai", "Tianjin"], "as": ["region", "value"]}],
  "mark": {"type": "area", "fillOpacity": 0.1, "line": {"strokeWidth": 3.5}, "clip": true},
  "encoding": {
    "x": {"field": "t", "type": "temporal", "title": null,
      "scale": {"domain": [{"year": 2017, "month": 6, "date": 1, "hours": 23, "minutes": 20, "seconds": 24}, {"year": 2017, "month": 6, "date": 2, "hours": 2, "minutes": 20, "seconds": 0}]},
      "axis": {"format": "%H:%M", "labelFlush": false, "labelPadding": 29, "grid": true,
        "values": [{"year": 2017, "month": 6, "date": 1, "hours": 23, "minutes": 30}, {"year": 2017, "month": 6, "date": 1, "hours": 23, "minutes": 40}, {"year": 2017, "month": 6, "date": 1, "hours": 23, "minutes": 50}, {"year": 2017, "month": 6, "date": 2, "hours": 0, "minutes": 0}, {"year": 2017, "month": 6, "date": 2, "hours": 0, "minutes": 10}, {"year": 2017, "month": 6, "date": 2, "hours": 0, "minutes": 20}, {"year": 2017, "month": 6, "date": 2, "hours": 0, "minutes": 30}, {"year": 2017, "month": 6, "date": 2, "hours": 0, "minutes": 40}, {"year": 2017, "month": 6, "date": 2, "hours": 0, "minutes": 50}, {"year": 2017, "month": 6, "date": 2, "hours": 1, "minutes": 0}, {"year": 2017, "month": 6, "date": 2, "hours": 1, "minutes": 10}, {"year": 2017, "month": 6, "date": 2, "hours": 1, "minutes": 20}, {"year": 2017, "month": 6, "date": 2, "hours": 1, "minutes": 30}, {"year": 2017, "month": 6, "date": 2, "hours": 1, "minutes": 40}, {"year": 2017, "month": 6, "date": 2, "hours": 1, "minutes": 50}, {"year": 2017, "month": 6, "date": 2, "hours": 2, "minutes": 0}, {"year": 2017, "month": 6, "date": 2, "hours": 2, "minutes": 10}, {"year": 2017, "month": 6, "date": 2, "hours": 2, "minutes": 20}]}},
    "y": {"field": "value", "type": "quantitative", "stack": null, "title": null,
      "scale": {"domain": [0, 50000]},
      "axis": {"values": [0, 10000, 20000, 30000, 40000, 50000], "labelExpr": "datum.value == 0 ? '0' : (datum.value / 1000) + ' K'", "labelPadding": 21, "grid": true}},
    "color": {"field": "region", "type": "nominal",
      "scale": {"domain": ["", "Beijing", "California", "Chongqing", "Fujian", "Guangdong", "Guangxi", "Hebei", "Henan", "Hubei", "Hunan", "Inner Mongolia Autonomous Region", "Jiangsu", "Jilin", "Liaoning", "Shaanxi", "Shandong", "Shanghai", "Sichuan", "Texas", "Tianjin", "Zhejiang", "inner"],
        "range": ["#7EB26D", "#EAB839", "#6ED0E0", "#EF843C", "#E24D42", "#1F78C1", "#BA43A9", "#705DA0", "#508642", "#CCA300", "#447EBC", "#C15C17", "#890F02", "#0A437C", "#6D1F62", "#584477", "#B7DBAB", "#F4D598", "#70DBED", "#F9BA8F", "#F29191", "#82B5D8", "#E5A8E2"]},
      "legend": {"orient": "none", "legendX": -26, "legendY": 605, "title": null, "direction": "horizontal", "columns": 5, "gridAlign": "none", "columnPadding": 31, "rowPadding": 24,
        "symbolType": "M-1,-0.33H1V0.33H-1Z", "symbolSize": 900, "symbolStrokeWidth": 0, "symbolOpacity": 1, "labelOffset": 25,
        "labelExpr": "'nginx.count {region: ' + datum.label + '}'",
        "encode": {"symbols": {"update": {"fillOpacity": {"value": 1}}}}}}
  }
}
]
}
